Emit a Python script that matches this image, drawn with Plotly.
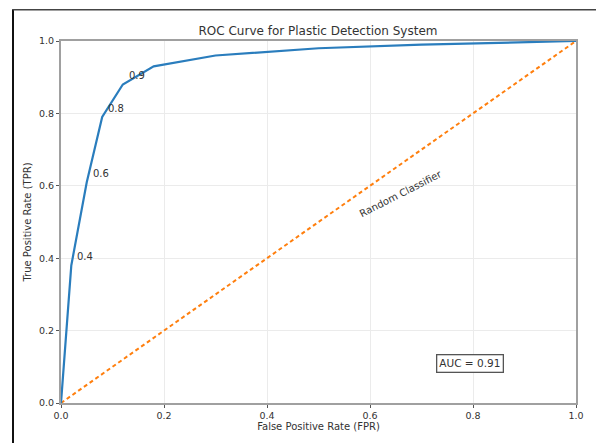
import plotly.graph_objects as go

fpr = [0.0, 0.02, 0.05, 0.08, 0.12, 0.18, 0.30, 0.50, 0.70, 1.0]
tpr = [0.0, 0.38, 0.61, 0.79, 0.88, 0.93, 0.96, 0.98, 0.99, 1.0]
label_idx = [1, 2, 3, 4]
label_text = ["0.4", "0.6", "0.8", "0.9"]
diag = [0.0, 1.0]
tick_vals = [0.0, 0.2, 0.4, 0.6, 0.8, 1.0]
tick_text = ["0.0", "0.2", "0.4", "0.6", "0.8", "1.0"]
auc_text = "AUC = 0.91"

# page body has an 8px margin, so the figure starts at (8, 8) on screen
OFF = 8
W, H = 604 - OFF, 443 - OFF
ML, MR, MT, MB = 61 - OFF, 28, 41 - OFF, 38
pw, ph = W - ML - MR, H - MT - MB

def px2paper_x(p):
    return (p - OFF - ML) / pw

def px2paper_y(p):
    return (H + OFF - MB - p) / ph

font = "DejaVu Sans"
tc = "#333333"

fig = go.Figure()
fig.add_trace(go.Scatter(x=diag, y=diag, mode="lines",
                         line=dict(color="#ff7f0e", width=2, dash="4px,3px"),
                         hoverinfo="skip", showlegend=False))
fig.add_trace(go.Scatter(x=fpr, y=tpr, mode="lines",
                         line=dict(color="#2a7dbd", width=2.2),
                         showlegend=False))

for i, t in zip(label_idx, label_text):
    fig.add_annotation(x=fpr[i], y=tpr[i], text=t, showarrow=False,
                       xanchor="left", yanchor="bottom", xshift=4, yshift=1,
                       font=dict(family=font, size=10, color=tc))

fig.add_annotation(x=0.66, y=0.58, text="Random Classifier", showarrow=False,
                   textangle=-27, font=dict(family=font, size=10, color=tc))

fig.add_annotation(x=0.795, y=0.11, text=auc_text, showarrow=False,
                   bordercolor="#555555", borderwidth=1.3, borderpad=2,
                   bgcolor="white", font=dict(family=font, size=10.5, color=tc))

# outer frame of the picture
fig.add_shape(type="line", xref="paper", yref="paper",
              x0=px2paper_x(13), x1=px2paper_x(13), y0=px2paper_y(9), y1=px2paper_y(460),
              line=dict(color="#111111", width=2))
fig.add_shape(type="line", xref="paper", yref="paper",
              x0=px2paper_x(13), x1=px2paper_x(603), y0=px2paper_y(9.5), y1=px2paper_y(9.5),
              line=dict(color="#444444", width=1.5))
fig.add_shape(type="line", xref="paper", yref="paper",
              x0=px2paper_x(602), x1=px2paper_x(602), y0=px2paper_y(9), y1=px2paper_y(460),
              line=dict(color="#999999", width=1))

axis_common = dict(range=[0, 1], tickvals=tick_vals, ticktext=tick_text,
                   showgrid=True, gridcolor="#ebebeb", gridwidth=1,
                   showline=True, linecolor="#a0a0a0", linewidth=2, mirror=True,
                   ticks="outside", ticklen=3, tickcolor="#555555",
                   tickfont=dict(family=font, size=9.5, color=tc),
                   zeroline=False, fixedrange=True)

fig.update_layout(
    width=W, height=H,
    margin=dict(l=ML, r=MR, t=MT, b=MB),
    paper_bgcolor="white", plot_bgcolor="white",
    title=dict(text="ROC Curve for Plastic Detection System",
               x=(318 - OFF) / W, xanchor="center",
               y=1 - (31 - OFF) / H, yanchor="middle",
               font=dict(family=font, size=12, color=tc)),
    xaxis=dict(title=dict(text="False Positive Rate (FPR)", standoff=3,
                          font=dict(family=font, size=10, color=tc)), **axis_common),
    yaxis=dict(title=dict(text="True Positive Rate (TPR)", standoff=5,
                          font=dict(family=font, size=10, color=tc)), **axis_common),
)

fig.write_html("out.html")
